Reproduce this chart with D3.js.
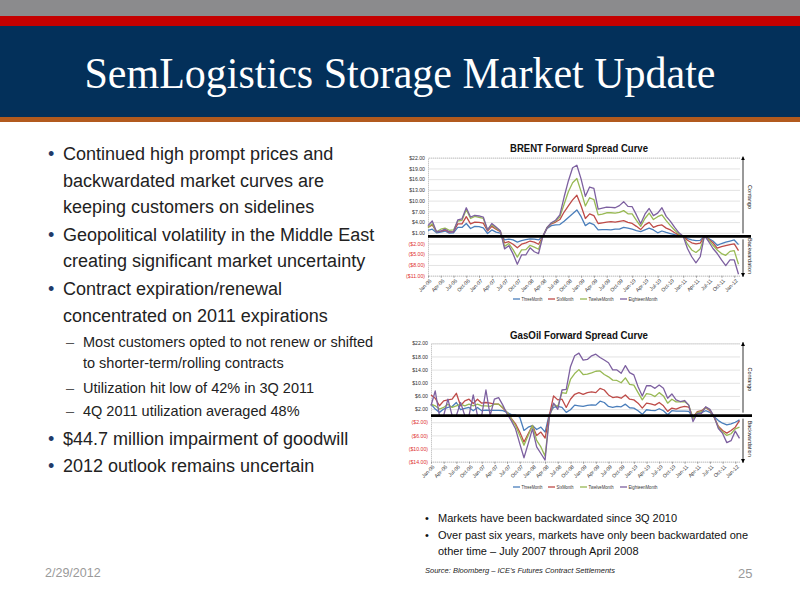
<!DOCTYPE html>
<html><head><meta charset="utf-8">
<script src="https://cdn.jsdelivr.net/npm/d3@7"></script>
<style>body{margin:0;background:#fff}svg{display:block}</style>
</head><body><svg id="s" width="800" height="600"></svg>
<script>
// ---------- DATA ----------
const months = ["Jan-06","Feb-06","Mar-06","Apr-06","May-06","Jun-06","Jul-06","Aug-06","Sep-06","Oct-06","Nov-06","Dec-06",
"Jan-07","Feb-07","Mar-07","Apr-07","May-07","Jun-07","Jul-07","Aug-07","Sep-07","Oct-07","Nov-07","Dec-07",
"Jan-08","Feb-08","Mar-08","Apr-08","May-08","Jun-08","Jul-08","Aug-08","Sep-08","Oct-08","Nov-08","Dec-08",
"Jan-09","Feb-09","Mar-09","Apr-09","May-09","Jun-09","Jul-09","Aug-09","Sep-09","Oct-09","Nov-09","Dec-09",
"Jan-10","Feb-10","Mar-10","Apr-10","May-10","Jun-10","Jul-10","Aug-10","Sep-10","Oct-10","Nov-10","Dec-10",
"Jan-11","Feb-11","Mar-11","Apr-11","May-11","Jun-11","Jul-11","Aug-11","Sep-11","Oct-11","Nov-11","Dec-11",
"Jan-12","Feb-12"];
const xTickLabels = ["Jan-06","Apr-06","Jul-06","Oct-06","Jan-07","Apr-07","Jul-07","Oct-07","Jan-08","Apr-08","Jul-08","Oct-08",
"Jan-09","Apr-09","Jul-09","Oct-09","Jan-10","Apr-10","Jul-10","Oct-10","Jan-11","Apr-11","Jul-11","Oct-11","Jan-12"];
const seriesNames = ["ThreeMonth","SixMonth","TwelveMonth","EighteenMonth"];
const seriesColors = ["#4a7ebb","#be4b48","#98b954","#7d60a0"];

const brentTicks = [22,19,16,13,10,7,4,1,-2,-5,-8,-11];
const brentThree = [1.7,2.0,1.0,1.2,1.5,0.9,1.0,2.5,2.5,3.6,2.2,2.8,2.7,2.4,0.8,1.8,1.2,0.9,-1.0,-0.8,-1.0,-1.6,-1.2,-0.9,-0.7,-0.8,-1.0,0.0,
 2.2,3.0,3.2,3.3,4.2,5.3,6.3,7.4,5.5,3.0,3.8,3.3,1.8,1.9,1.9,1.8,2.0,2.0,2.5,2.3,2.0,1.6,1.3,1.8,2.3,1.8,1.0,1.5,1.1,0.8,0.5,0.3,0.2,
 -0.6,-1.0,-1.2,-1.1,0.0,-0.6,-1.3,-2.5,-2.0,-1.6,-1.3,-1.0,-2.3];
const brentSix = [2.5,3.2,1.3,1.4,1.8,1.2,1.3,3.5,3.5,5.5,3.5,4.0,3.9,3.7,1.5,2.8,2.0,1.3,-1.8,-1.5,-2.2,-3.2,-2.2,-1.8,-1.3,-1.6,-2.2,0.0,
 2.4,3.5,4.0,4.7,6.8,8.5,10.2,11.5,8.5,5.0,6.3,5.8,3.6,3.8,4.0,4.1,4.0,4.2,4.4,3.9,3.6,2.8,1.9,3.2,3.9,2.5,3.0,3.2,2.3,1.8,1.0,0.4,0.1,
 -1.1,-1.8,-2.1,-1.9,0.0,-0.8,-1.8,-3.3,-2.9,-2.6,-2.3,-2.1,-4.0];
const brentTwelve = [2.5,3.5,1.3,2.0,2.3,1.7,1.8,4.3,4.5,7.5,5.0,5.6,5.3,5.0,1.8,3.3,2.3,1.5,-2.8,-2.0,-3.7,-5.8,-3.8,-3.7,-2.5,-3.0,-3.6,0.0,
 2.5,3.7,4.3,5.5,9.0,12.5,15.0,16.2,12.5,8.5,10.8,10.3,6.0,6.2,6.6,6.6,6.5,6.7,7.2,6.3,6.3,4.5,2.8,5.0,6.5,4.7,5.5,6.0,4.4,3.0,1.7,0.6,0.1,
 -2.2,-3.8,-4.5,-3.5,0.1,-1.0,-2.5,-3.8,-4.8,-5.3,-4.2,-4.0,-7.8];
const brentEighteen = [3.0,4.3,1.3,1.5,2.0,1.3,1.2,4.6,4.9,8.0,5.4,5.9,5.7,5.4,1.8,3.6,2.6,1.6,-3.5,-2.6,-4.9,-7.8,-5.2,-5.2,-3.2,-4.3,-4.8,0.0,
 2.5,3.8,4.5,6.0,11.0,15.5,19.2,19.9,16.0,11.2,13.8,13.4,7.6,7.9,8.2,8.1,8.0,8.6,9.7,8.4,8.3,6.0,3.5,6.2,7.8,5.8,6.5,8.0,5.6,4.2,2.5,1.0,0.0,
 -3.4,-5.7,-7.4,-5.7,0.2,-1.5,-3.4,-4.8,-6.6,-8.2,-6.6,-6.6,-10.6];

const gasTicks = [22,18,14,10,6,2,-2,-6,-10,-14];
const gasThree = [3.5,2.0,1.0,2.0,2.5,2.8,4.0,1.8,2.2,2.5,1.5,2.5,1.5,1.7,1.6,1.6,1.6,1.5,
 1.0,0.3,0.2,-0.5,-4.5,-3.5,-3.0,-4.2,-3.5,-5.0,
 0.5,2.5,2.8,2.5,1.0,1.8,3.2,3.0,2.8,3.1,3.3,3.2,4.4,4.0,2.8,2.5,2.8,2.7,3.5,2.4,2.3,1.5,0.4,1.8,1.6,1.5,2.1,1.5,0.3,1.5,1.4,1.4,1.4,
 1.3,-0.5,0.8,0.9,1.5,1.0,-0.3,-1.5,-2.3,-2.8,-2.5,-2.0,-1.3];
const gasSix = [6.3,5.3,3.0,4.5,4.8,5.0,6.8,3.0,4.5,5.0,3.7,5.0,3.8,4.0,3.8,3.5,3.5,2.3,
 1.0,-0.8,-2.5,-5.0,-8.0,-5.5,-3.0,-6.0,-5.0,-6.8,
 0.0,6.0,4.8,5.0,2.5,5.0,6.5,7.0,6.5,7.0,7.2,7.0,8.3,7.8,6.3,5.5,5.7,5.3,6.3,5.0,4.8,3.8,2.3,3.8,3.6,3.2,4.0,3.0,1.3,2.3,2.0,2.5,2.8,
 2.6,-0.5,1.2,1.5,2.5,1.5,-0.5,-3.2,-4.5,-5.3,-4.5,-3.5,-1.5];
const gasTwelve = [3.5,3.0,2.0,2.5,3.5,2.5,3.0,3.5,3.0,3.5,3.0,3.5,3.0,3.0,2.8,3.5,3.5,2.5,
 1.0,-1.0,-3.0,-6.0,-9.0,-6.0,-3.0,-7.5,-9.5,-12.3,
 -0.5,3.5,2.8,7.0,6.8,11.0,12.8,14.0,12.5,12.6,13.0,13.5,13.6,12.5,11.8,10.8,10.7,10.0,11.5,9.5,9.3,7.0,4.8,6.7,6.5,5.8,7.0,6.0,3.8,5.0,4.2,4.2,4.3,
 3.2,-1.0,1.0,1.2,2.5,1.8,-0.5,-3.5,-5.0,-6.0,-5.5,-4.0,-3.5];
const gasEighteen = [3.0,7.5,0.0,0.0,5.0,0.0,0.0,4.0,0.0,0.0,6.3,0.0,0.0,7.8,0.0,5.0,5.5,3.2,
 0.5,-1.5,-4.0,-8.5,-12.8,-8.5,-4.0,-9.5,-11.5,-13.5,
 -0.3,3.8,1.9,7.8,8.0,14.9,18.2,19.0,16.9,17.1,18.2,18.7,17.7,16.9,16.1,13.9,13.9,12.9,15.2,13.1,12.4,8.8,6.0,9.1,9.1,8.3,9.3,8.3,5.3,6.6,4.8,4.3,4.6,
 3.2,-1.8,0.7,0.7,2.7,1.9,-0.3,-3.9,-5.4,-8.2,-7.6,-4.7,-6.9];

const leftBullets = [
 {lvl:1, lines:["Continued high prompt prices and","backwardated market curves are","keeping customers on sidelines"]},
 {lvl:1, lines:["Geopolitical volatility in the Middle East","creating significant market uncertainty"]},
 {lvl:1, lines:["Contract expiration/renewal","concentrated on 2011 expirations"]},
 {lvl:2, lines:["Most customers opted to not renew or shifted","to shorter-term/rolling contracts"]},
 {lvl:2, lines:["Utilization hit low of 42% in 3Q 2011"]},
 {lvl:2, lines:["4Q 2011 utilization averaged 48%"]},
 {lvl:1, lines:["$44.7 million impairment of goodwill"]},
 {lvl:1, lines:["2012 outlook remains uncertain"]}
];
const rightBullets = [
 ["Markets have been backwardated since 3Q 2010"],
 ["Over past six years, markets have only been backwardated one","other time \u2013 July 2007 through April 2008"]
];

// ---------- DRAW ----------
const SANS = "'Liberation Sans', Arial, sans-serif";
const svg = d3.select("#s");
svg.append("rect").attr("width",800).attr("height",600).attr("fill","#fff");

// header bands
svg.append("rect").attr("x",0).attr("y",0).attr("width",800).attr("height",16).attr("fill","#8b8b8d");
svg.append("rect").attr("x",0).attr("y",16).attr("width",800).attr("height",10).attr("fill","#c40000");
svg.append("rect").attr("x",0).attr("y",26).attr("width",800).attr("height",91).attr("fill","#03305a");
svg.append("rect").attr("x",0).attr("y",117).attr("width",800).attr("height",5).attr("fill","#b25a1e");
svg.append("text").attr("x",400).attr("y",88).attr("text-anchor","middle")
  .attr("font-family","'Liberation Serif','Times New Roman',serif").attr("font-size",45)
  .attr("textLength",631).attr("lengthAdjust","spacingAndGlyphs")
  .attr("fill","#fff").text("SemLogistics Storage Market Update");

// left bullets
const lineY1 = [160,187,213,241,267,295,322];
const lineY2 = [347,368,393,416];
const lineY3 = [445,472];
let i1 = 0, i2 = 0;
leftBullets.forEach((b, bi) => {
  b.lines.forEach((ln, li) => {
    let y;
    if (b.lvl === 1) { y = (bi >= 6) ? lineY3[bi-6] : lineY1[i1++]; }
    else { y = lineY2[i2++]; }
    if (b.lvl === 1) {
      if (li === 0) svg.append("text").attr("x",48).attr("y",y).attr("font-family",SANS).attr("font-size",18).attr("fill","#1f3a6a").text("\u2022");
      svg.append("text").attr("x",63).attr("y",y).attr("font-family",SANS).attr("font-size",18).attr("fill","#222").text(ln);
    } else {
      if (li === 0) svg.append("text").attr("x",66).attr("y",y).attr("font-family",SANS).attr("font-size",14.5).attr("fill","#555").text("\u2013");
      svg.append("text").attr("x",83).attr("y",y).attr("font-family",SANS).attr("font-size",14.5).attr("fill","#222").text(ln);
    }
  });
});

// bottom-right bullets
const rY = [522,539,555];
let ri = 0;
rightBullets.forEach(b => {
  b.forEach((ln, li) => {
    const y = rY[ri++];
    if (li === 0) svg.append("text").attr("x",425).attr("y",y).attr("font-family",SANS).attr("font-size",11).attr("fill","#111").text("\u2022");
    svg.append("text").attr("x",438).attr("y",y).attr("font-family",SANS).attr("font-size",11).attr("fill","#111").text(ln);
  });
});
svg.append("text").attr("x",425).attr("y",573).attr("font-family",SANS).attr("font-size",7.5).attr("font-style","italic")
  .attr("fill","#222").text("Source: Bloomberg \u2013 ICE\u2019s Futures Contract Settlements");
svg.append("text").attr("x",45).attr("y",577).attr("font-family",SANS).attr("font-size",12.5).attr("fill","#9a9a9a").text("2/29/2012");
svg.append("text").attr("x",738).attr("y",578).attr("font-family",SANS).attr("font-size",13).attr("fill","#9a9a9a").text("25");

function fmt(v){ return v >= 0 ? "$" + v.toFixed(2) : "($" + (-v).toFixed(2) + ")"; }

const legendX = [513, 548, 580, 620];
const legendW = [21, 17, 25, 29];

function drawChart(cfg) {
  const g = svg.append("g");
  const x = d3.scalePoint().domain(months).range([cfg.x0, cfg.x1]);
  const y = d3.scaleLinear().domain([cfg.ticks[cfg.ticks.length-1], cfg.ticks[0]]).range([cfg.yb, cfg.yt]);
  // title
  g.append("text").attr("x",579).attr("y",cfg.titleY).attr("text-anchor","middle").attr("font-family",SANS)
    .attr("font-weight","bold").attr("font-size",11.5).attr("textLength",138).attr("lengthAdjust","spacingAndGlyphs")
    .attr("fill","#111").text(cfg.title);
  // gridlines + y axis
  const ya = d3.axisLeft(y).tickValues(cfg.ticks).tickFormat(fmt).tickSize(-(cfg.gridR - cfg.ax)).tickPadding(3);
  const yg = g.append("g").attr("transform",`translate(${cfg.ax},0)`).call(ya);
  yg.select(".domain").attr("stroke","#b0b0b0").attr("stroke-dasharray","1,1");
  yg.selectAll(".tick line").attr("stroke","#dcdcdc").attr("stroke-width",0.8);
  yg.selectAll(".tick text").attr("font-family",SANS).attr("font-size",5.2)
    .attr("fill", d => d < 0 ? "#e03030" : "#333");
  // x axis labels
  const xa = d3.axisBottom(x).tickValues(xTickLabels).tickSize(2).tickPadding(1);
  const xg = g.append("g").attr("transform",`translate(0,${cfg.yb})`).call(xa);
  xg.select(".domain").remove();
  xg.selectAll(".tick line").attr("stroke","#999");
  xg.selectAll(".tick text").attr("font-family",SANS).attr("font-size",5.2).attr("fill","#333")
    .attr("text-anchor","end").attr("dy","0.35em").attr("transform","translate(0,2) rotate(-45)");
  // lines
  const line = d3.line().x((d,i) => x(months[i])).y(d => y(d));
  cfg.series.forEach((s, k) => {
    g.append("path").datum(s).attr("d", line).attr("fill","none")
      .attr("stroke", seriesColors[k]).attr("stroke-width",1.3).attr("stroke-linejoin","round");
  });
  // zero line
  g.append("line").attr("x1",cfg.ax).attr("x2",cfg.zeroR).attr("y1",y(0)).attr("y2",y(0))
    .attr("stroke","#000").attr("stroke-width",2.6);
  // arrows
  const defs = svg.select("defs").empty() ? svg.append("defs") : svg.select("defs");
  if (defs.select("#ah").empty()) {
    defs.append("marker").attr("id","ah").attr("viewBox","0 0 10 10").attr("refX",9).attr("refY",5)
      .attr("markerWidth",5).attr("markerHeight",5).attr("orient","auto-start-reverse")
      .append("path").attr("d","M0,0 L10,5 L0,10 z").attr("fill","#000");
  }
  g.append("line").attr("x1",cfg.arrowX).attr("x2",cfg.arrowX).attr("y1",y(0)-3).attr("y2",cfg.yt-1)
    .attr("stroke","#000").attr("stroke-width",0.8).attr("marker-end","url(#ah)");
  g.append("line").attr("x1",cfg.arrowX).attr("x2",cfg.arrowX).attr("y1",y(0)+3).attr("y2",cfg.yb+1)
    .attr("stroke","#000").attr("stroke-width",0.8).attr("marker-end","url(#ah)");
  g.append("text").attr("transform",`translate(${cfg.arrowX+5},${(cfg.yt + y(0))/2}) rotate(90)`)
    .attr("text-anchor","middle").attr("font-family",SANS).attr("font-size",5.5).attr("fill","#111").text("Contango");
  g.append("text").attr("transform",`translate(${cfg.arrowX+5},${(cfg.yb + y(0))/2}) rotate(90)`)
    .attr("text-anchor","middle").attr("font-family",SANS).attr("font-size",5.5).attr("fill","#111").text("Backwardation");
  // legend
  seriesNames.forEach((n, k) => {
    const lx = legendX[k];
    g.append("line").attr("x1",lx).attr("x2",lx+7).attr("y1",cfg.legY).attr("y2",cfg.legY)
      .attr("stroke",seriesColors[k]).attr("stroke-width",1.3);
    g.append("text").attr("x",lx+8.5).attr("y",cfg.legY+1.8).attr("font-family",SANS)
      .attr("font-size",5.2).attr("textLength",legendW[k]).attr("lengthAdjust","spacingAndGlyphs")
      .attr("fill","#333").text(n);
  });
}

drawChart({title:"BRENT Forward Spread Curve", titleY:152, ticks:brentTicks,
  series:[brentThree,brentSix,brentTwelve,brentEighteen],
  x0:428, x1:738.5, ax:428, gridR:740, zeroR:751, yt:157.7, yb:275.7, arrowX:743, legY:299});
drawChart({title:"GasOil Forward Spread Curve", titleY:339, ticks:gasTicks,
  series:[gasThree,gasSix,gasTwelve,gasEighteen],
  x0:431, x1:739.5, ax:431, gridR:740, zeroR:752, yt:343.3, yb:461.7, arrowX:743, legY:487});
</script>
</body></html>
